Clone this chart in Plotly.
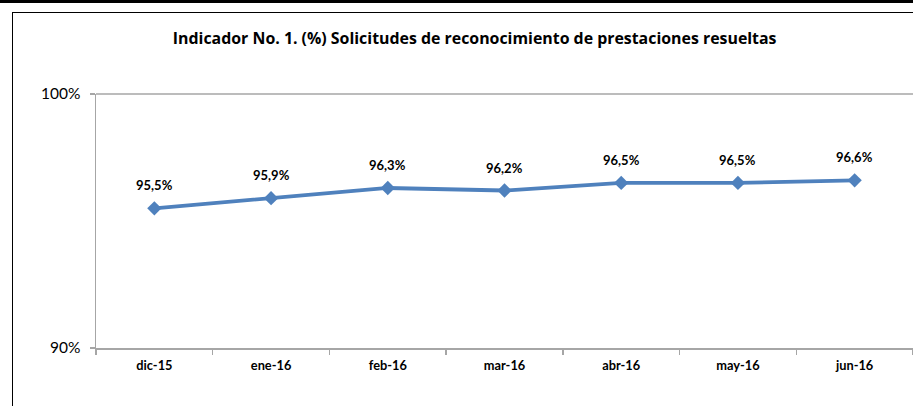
import plotly.graph_objects as go

categories = ["dic-15", "ene-16", "feb-16", "mar-16", "abr-16", "may-16", "jun-16"]
values = [95.5, 95.9, 96.3, 96.2, 96.5, 96.5, 96.6]
y_tick_values = [90, 100]
y_tick_labels = ["90%", "100%"]
title_text = "Indicador No. 1. (%) Solicitudes de reconocimiento de prestaciones resueltas"

labels = [f"{v:.1f}%".replace(".", ",") for v in values]

W, H = 913, 406
ML, MR, MT, MB = 96, 0, 94, 58

FONT = "Lato, Carlito, Calibri, sans-serif"

fig = go.Figure()
fig.add_trace(go.Scatter(
    x=categories, y=values, mode="lines+markers",
    line=dict(color="#4F81BD", width=3.8),
    marker=dict(symbol="diamond", size=11, color="#4F81BD"),
    cliponaxis=False, hoverinfo="skip",
))

annotations = [
    dict(x=c, y=v, xref="x", yref="y", text=f"<b>{t}</b>", showarrow=False,
         yshift=23, xanchor="center", yanchor="middle",
         font=dict(family=FONT, size=13, color="#000000"))
    for c, v, t in zip(categories, values, labels)
]

gray = "#A6A6A6"
fig.update_layout(
    width=W, height=H,
    margin=dict(l=ML, r=MR, t=MT, b=MB),
    paper_bgcolor="white", plot_bgcolor="white",
    showlegend=False,
    hovermode=False,
    annotations=annotations,
    title=dict(text=f"<b>{title_text}</b>", x=474.7 / W, xanchor="center", xref="container",
               y=1 - 38.5 / H, yanchor="middle", yref="container",
               font=dict(family="Open Sans, sans-serif", size=15.9, color="#000000")),
    xaxis=dict(showgrid=False, zeroline=False, showline=True, linecolor=gray, linewidth=1.5,
               ticks="outside", tickson="boundaries", ticklen=5, tickcolor=gray, tickwidth=1.5,
               ticklabelstandoff=5,
               tickfont=dict(family=FONT, size=12.8, color="#000000", weight="bold"),
               range=[-0.5, 6.5], fixedrange=True),
    yaxis=dict(showgrid=False, zeroline=False, showline=True, linecolor=gray, linewidth=1.5,
               range=[90, 100], tickvals=y_tick_values, ticktext=y_tick_labels,
               ticks="outside", ticklen=5, tickcolor=gray, tickwidth=1.5,
               ticklabelstandoff=6,
               tickfont=dict(family=FONT, size=15.5, color="#000000"),
               fixedrange=True),
    shapes=[
        # plot area top border
        dict(type="line", xref="paper", yref="paper", x0=0, x1=1, y0=1, y1=1,
             line=dict(color=gray, width=1.5)),
    ],
)

frame_js = (
    "document.documentElement.style.margin='0';"
    "document.documentElement.style.overflow='hidden';"
    "document.body.style.margin='0';"
    "document.body.style.overflow='hidden';"
    "var f=document.createElement('div');"
    "f.style.cssText='position:fixed;left:12px;top:12px;right:0;bottom:0;"
    "border-left:1.5px solid #000;border-top:1.5px solid #000;"
    "box-sizing:border-box;pointer-events:none;';"
    "document.body.appendChild(f);"
    "var b=document.createElement('div');"
    "b.style.cssText='position:fixed;left:0;top:0;width:100%;height:3px;"
    "background:#000;pointer-events:none;';"
    "document.body.appendChild(b);"
)

fig.write_html(
    "out.html",
    config={"displayModeBar": False, "staticPlot": True},
    post_script=frame_js,
)
